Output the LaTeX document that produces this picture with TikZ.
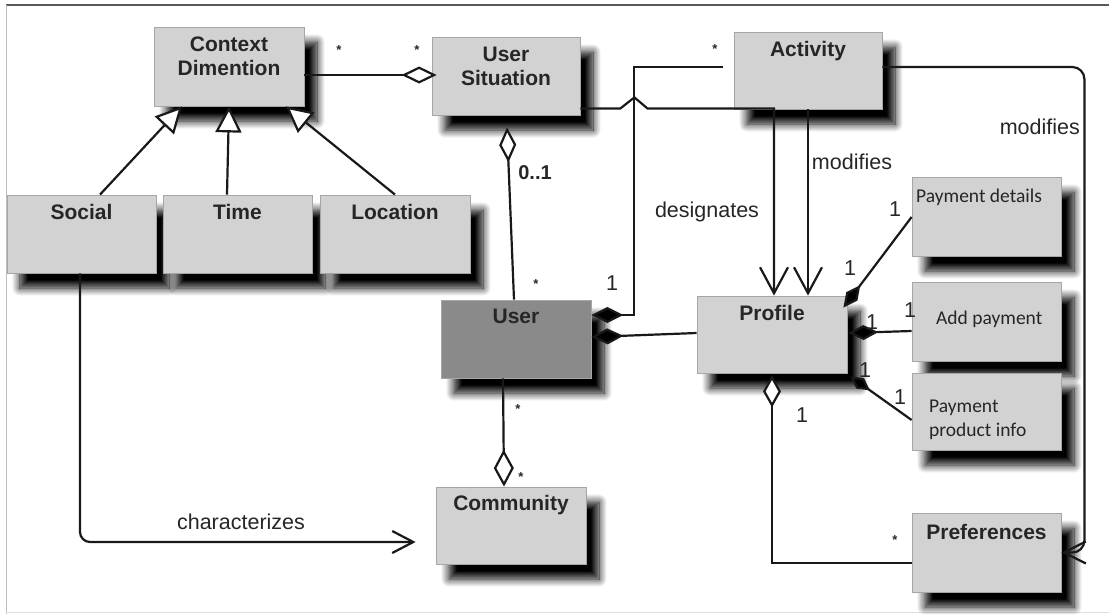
\documentclass[tikz,border=0pt]{standalone}
\usepackage{fontspec}
\setmainfont{Liberation Sans}
\newfontfamily\calib{Carlito}
\usetikzlibrary{arrows.meta,calc,shadows.blur}

\tikzset{
  classbox/.style={draw=black!35, line width=0.8pt, fill=gray!35, inner sep=0pt,
    blur shadow={shadow xshift=13pt, shadow yshift=-15pt, shadow blur radius=8pt,
                 shadow blur steps=12, shadow opacity=100}},
  userbox/.style={classbox, fill=black!46},
  title/.style={font=\fontsize{21}{24.5}\selectfont\bfseries, text=black!85,
    align=center, inner sep=0pt, anchor=north},
  plain/.style={font=\calib\fontsize{19.5}{24}\selectfont, text=black!85,
    align=left, inner sep=0pt},
  conn/.style={line width=2.2pt, black!90},
  rolelabel/.style={font=\fontsize{21.5}{24}\selectfont, text=black!85, inner sep=0pt},
  starlabel/.style={font=\fontsize{13}{14}\selectfont\bfseries, text=black!85, inner sep=0pt},
  odiamond/.style={-{Diamond[fill=white, length=#1, width=17pt]}},
  fdiamond/.style={-{Diamond[fill=black, length=#1, width=16pt]}},
  gentip/.style={-{Triangle[fill=white, length=26pt, width=26pt]}},
  barb/.style={-{Straight Barb[length=#1, width=28pt]}},
}

\begin{document}
\begin{tikzpicture}[x=1pt, y=-1pt]
\useasboundingbox (0,0) rectangle (1109,614);

% page frame
\draw[black!65, line width=1.5pt] (6,5) -- (1109,5);
\draw[black!25, line width=1pt] (6,5) -- (6,614);
\draw[black!12, line width=1pt] (6,612.5) -- (1109,612.5);

% classes
\node[classbox, minimum width=150pt, minimum height=79pt] (ctx)   at (229,66.5)  {};
\node[classbox, minimum width=148pt, minimum height=78pt] (usit)  at (506,76)    {};
\node[classbox, minimum width=148pt, minimum height=77pt] (act)   at (808,70.5)  {};
\node[classbox, minimum width=149pt, minimum height=78pt] (soc)   at (81.5,234)  {};
\node[classbox, minimum width=149pt, minimum height=78pt] (time)  at (237.5,234) {};
\node[classbox, minimum width=150pt, minimum height=78pt] (loc)   at (395,234)   {};
\node[userbox,  minimum width=150pt, minimum height=78pt] (user)  at (516,339)   {};
\node[classbox, minimum width=150pt, minimum height=77pt] (comm)  at (511,525.5) {};
\node[classbox, minimum width=150pt, minimum height=77pt] (prof)  at (772,334.5) {};
\node[classbox, minimum width=149pt, minimum height=79pt] (pdet)  at (986.5,216.5) {};
\node[classbox, minimum width=149pt, minimum height=79pt] (addp)  at (986.5,321.5) {};
\node[classbox, minimum width=149pt, minimum height=77pt] (pprod) at (986.5,411.5) {};
\node[classbox, minimum width=149pt, minimum height=79pt] (pref)  at (986.5,552.5) {};

% class names
\node[title] (ctxT)  at ([yshift=-10pt]ctx.north)  {Context\\Dimention};
\node[title] (usitT) at ([yshift=-10pt]usit.north) {User\\Situation};
\node[title] (actT)  at ([yshift=-9pt]act.north)   {Activity};
\node[title] (socT)  at ([yshift=-9pt]soc.north)   {Social};
\node[title] (timeT) at ([yshift=-9pt]time.north)  {Time};
\node[title] (locT)  at ([yshift=-9pt]loc.north)   {Location};
\node[title] (userT) at ([yshift=-9pt]user.north)  {User};
\node[title] (commT) at ([yshift=-8pt]comm.north)  {Community};
\node[title] (profT) at ([yshift=-9pt]prof.north)  {Profile};
\node[title] (prefT) at ([yshift=-11pt]pref.north) {Preferences};
\node[plain, anchor=west] (pdetT)  at (916,197)   {Payment details};
\node[plain, anchor=west] (addpT)  at (936,319)   {Add payment};
\node[plain, anchor=west] (pprodT) at (929,420)   {Payment\\product info};

% context dimension and its specialisations
\coordinate (cuA) at ([yshift=-8.5pt]ctx.east);
\draw[conn, odiamond=35pt] (cuA) -- ($(cuA -| usit.west)+(5,0)$);
\draw[conn, gentip] ([xshift=18.5pt]soc.north) -- ([xshift=-47pt]ctx.south);
\draw[conn, gentip] ([xshift=-10.5pt]time.north) -- (ctx.south);
\draw[conn, gentip] (loc.north) -- ([xshift=57pt]ctx.south);

% user situation - user
\draw[conn, odiamond=35pt] ([xshift=-2pt]user.north) -- ([xshift=1pt,yshift=-12pt]usit.south);

% activity - user
\draw[conn, fdiamond=32pt] ([xshift=-11pt,yshift=3.5pt]act.west) -- ++(-89,0)
  |- ([yshift=24pt]user.east);

% profile - user
\draw[conn, fdiamond=32pt] ([yshift=1.5pt]prof.west) -- ([yshift=2pt]user.east);

% user situation designates profile (with a hop over the activity line)
\draw[conn, barb=26pt] ([yshift=7pt]usit.south east) -- ++(40,0) -- ++(14,-11) -- ++(13,11)
  -- ([xshift=-34pt,yshift=1pt]act.south) -- ([xshift=2pt]prof.north);

% activity modifies profile
\draw[conn, barb=26pt] (act.south) -- (act.south |- prof.north);

% activity modifies preferences
\draw[conn, rounded corners=12pt, -{Straight Barb[length=22pt, width=22pt]}]
  ([yshift=3.5pt]act.east) -- ++(202,0) |- (pref.east);

% profile - preferences
\draw[conn, -{Diamond[fill=white, length=32pt, width=18pt]}]
  ([yshift=-10.5pt]pref.west) -| ([yshift=-2pt]prof.south);

% payment parts of the profile
\draw[conn, -{Diamond[fill=black, length=28pt, width=14pt]}]
  ([yshift=-0.5pt]pdet.west) -- ([xshift=-4pt,yshift=-12pt]prof.north east);
\draw[conn, -{Diamond[fill=black, length=30pt, width=15pt]}]
  ([yshift=-9.5pt]addp.west) -- ([xshift=1pt,yshift=1.5pt]prof.east);
\draw[conn, -{Diamond[fill=black, length=24pt, width=13pt]}]
  ([yshift=-8.5pt]pprod.west) -- ([xshift=3pt,yshift=-3pt]prof.south east);

% user - community
\draw[conn, -{Diamond[fill=white, length=37pt, width=20pt]}]
  ([xshift=-13pt]user.south) -- ([xshift=-7pt]comm.north);

% social characterizes community
\draw[conn, rounded corners=10pt, -{Straight Barb[length=21pt, width=22pt]}]
  ([xshift=-1.5pt]soc.south) |- ([xshift=-20pt,yshift=-16.5pt]comm.west);

% multiplicities
\node[starlabel] (m1) at (339,50)  {*};
\node[starlabel] (m2) at (417,50)  {*};
\node[starlabel] (m3) at (715,49)  {*};
\node[starlabel] (m4) at (536,284) {*};
\node[starlabel] (m5) at (518,409) {*};
\node[starlabel] (m6) at (521,477) {*};
\node[starlabel] (m7) at (895,540) {*};
\node[rolelabel, font=\fontsize{20}{22}\selectfont\bfseries] (m8) at (535,173) {0..1};
\node[rolelabel] (n1) at (612,283) {1};
\node[rolelabel] (n2) at (895,209) {1};
\node[rolelabel] (n3) at (850,268) {1};
\node[rolelabel] (n4) at (872,322) {1};
\node[rolelabel] (n5) at (910,310) {1};
\node[rolelabel] (n6) at (865,370) {1};
\node[rolelabel] (n7) at (900,397) {1};
\node[rolelabel] (n8) at (802,415) {1};

% association names
\node[rolelabel] (lDes)  at (707,212) {designates};
\node[rolelabel] (lMod1) at (852,162) {modifies};
\node[rolelabel, anchor=east] (lMod2) at (1080,127) {modifies};
\node[rolelabel] (lChar) at (241,522) {characterizes};
\end{tikzpicture}
\end{document}
